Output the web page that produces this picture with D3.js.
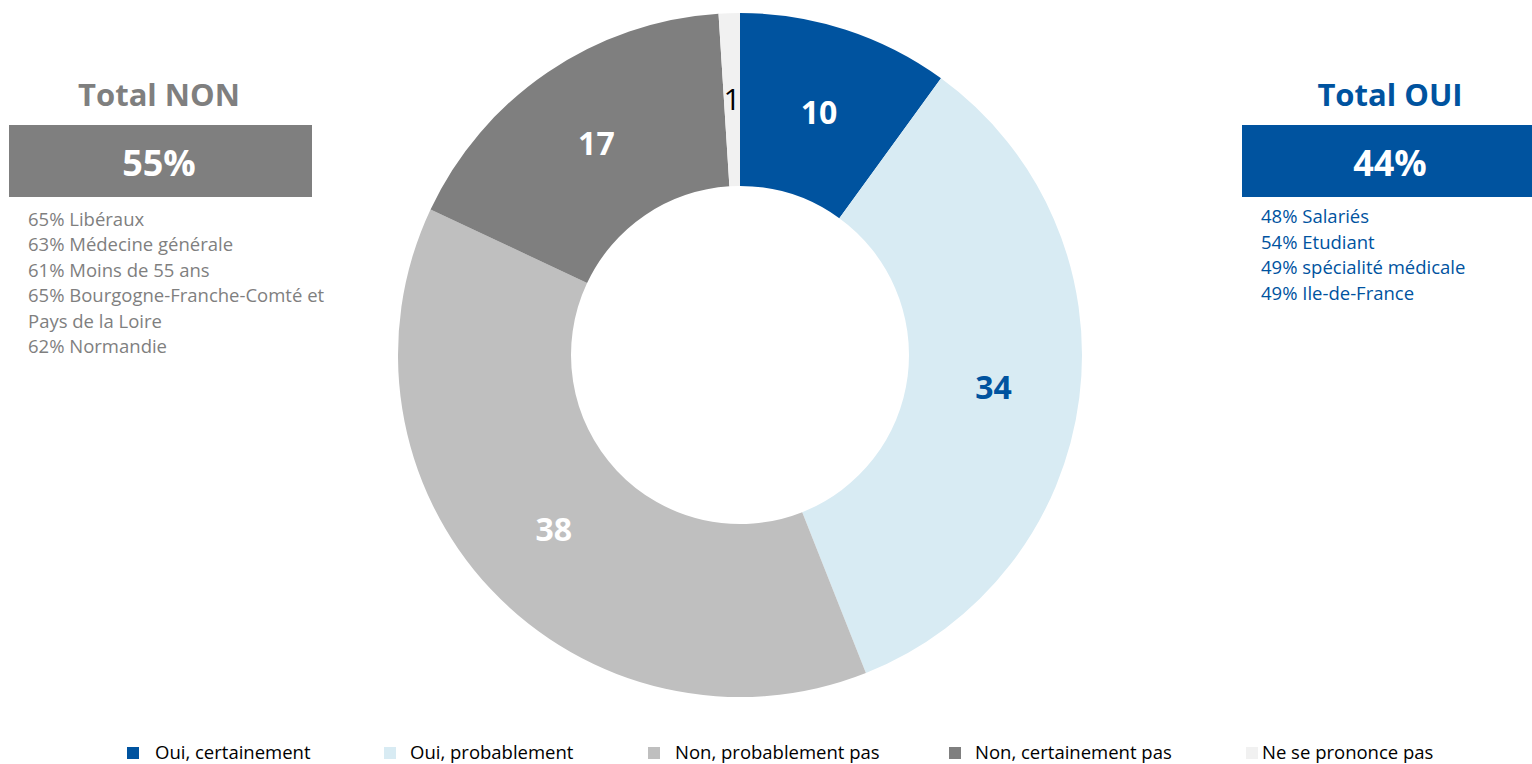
<!DOCTYPE html>
<html>
<head>
<meta charset="utf-8">
<script src="https://cdn.jsdelivr.net/npm/d3@7"></script>
<style>
  html, body { margin: 0; padding: 0; background: #ffffff; }
  svg { display: block; font-family: "Open Sans", "Noto Sans", sans-serif; }
</style>
</head>
<body>
<svg id="chart" width="1532" height="764"></svg>
<script>
// Réponses (en %)
const categories = ["Oui, certainement", "Oui, probablement", "Non, probablement pas", "Non, certainement pas", "Ne se prononce pas"];
const values = [10, 34, 38, 17, 1];
const colors = ["#00539f", "#d8ebf3", "#bfbfbf", "#7f7f7f", "#f1f1f1"];
const labelColors = ["#ffffff", "#00539f", "#ffffff", "#ffffff", "#000000"];

// Totaux et détails
const totalNon = { title: "Total NON", value: "55%" };
const detailsNon = ["65% Libéraux", "63% Médecine générale", "61% Moins de 55 ans", "65% Bourgogne-Franche-Comté et", "Pays de la Loire", "62% Normandie"];
const totalOui = { title: "Total OUI", value: "44%" };
const detailsOui = ["48% Salariés", "54% Etudiant", "49% spécialité médicale", "49% Ile-de-France"];

const svg = d3.select("#chart");
const cx = 740, cy = 355, rOuter = 342, rInner = 169;

const pie = d3.pie().sort(null).value(d => d.value);
const arcs = pie(categories.map((c, i) => ({ name: c, value: values[i], i })));
const arc = d3.arc().innerRadius(rInner).outerRadius(rOuter);

const g = svg.append("g").attr("transform", `translate(${cx},${cy})`);
g.selectAll("path.slice")
  .data(arcs)
  .join("path")
  .attr("class", "slice")
  .attr("d", arc)
  .attr("fill", d => colors[d.data.i]);

g.selectAll("text.val")
  .data(arcs)
  .join("text")
  .attr("class", "val")
  .attr("transform", d => `translate(${arc.centroid(d)})`)
  .attr("text-anchor", "middle")
  .attr("dy", "0.36em")
  .attr("font-size", d => d.data.value < 2 ? 30 : 32)
  .attr("font-weight", d => d.data.value < 2 ? 400 : 700)
  .attr("fill", d => labelColors[d.data.i])
  .text(d => d.data.value);

// Encadrés des totaux
function totalBlock(opts) {
  const { x0, x1, titleX, color, total, details, detailsX, detailsY, step } = opts;
  svg.append("text")
    .attr("x", titleX).attr("y", 106)
    .attr("text-anchor", "middle")
    .attr("font-size", 31).attr("font-weight", 700)
    .attr("fill", color)
    .text(total.title);
  svg.append("rect")
    .attr("x", x0).attr("y", 125)
    .attr("width", x1 - x0).attr("height", 72)
    .attr("fill", color);
  svg.append("text")
    .attr("x", titleX).attr("y", 176)
    .attr("text-anchor", "middle")
    .attr("font-size", 36).attr("font-weight", 700)
    .attr("fill", "#ffffff")
    .text(total.value);
  svg.append("g").selectAll("text")
    .data(details)
    .join("text")
    .attr("x", detailsX)
    .attr("y", (d, i) => detailsY + i * step)
    .attr("font-size", 18.5)
    .attr("fill", color)
    .text(d => d);
}

totalBlock({ x0: 9, x1: 312, titleX: 159, color: "#7f7f7f", total: totalNon, details: detailsNon, detailsX: 28, detailsY: 226, step: 25.4 });
totalBlock({ x0: 1242, x1: 1532, titleX: 1390, color: "#00539f", total: totalOui, details: detailsOui, detailsX: 1261, detailsY: 223, step: 25.7 });

// Légende
const legendX = [127, 384, 648, 949, 1246];
const legendTextX = [155, 410, 675, 975, 1262];
const legend = svg.append("g");
categories.forEach((c, i) => {
  legend.append("rect")
    .attr("x", legendX[i]).attr("y", 747)
    .attr("width", 12).attr("height", 12)
    .attr("fill", colors[i]);
  legend.append("text")
    .attr("x", legendTextX[i]).attr("y", 758.5)
    .attr("font-size", 18.5)
    .attr("fill", "#000000")
    .text(c);
});
</script>
</body>
</html>
